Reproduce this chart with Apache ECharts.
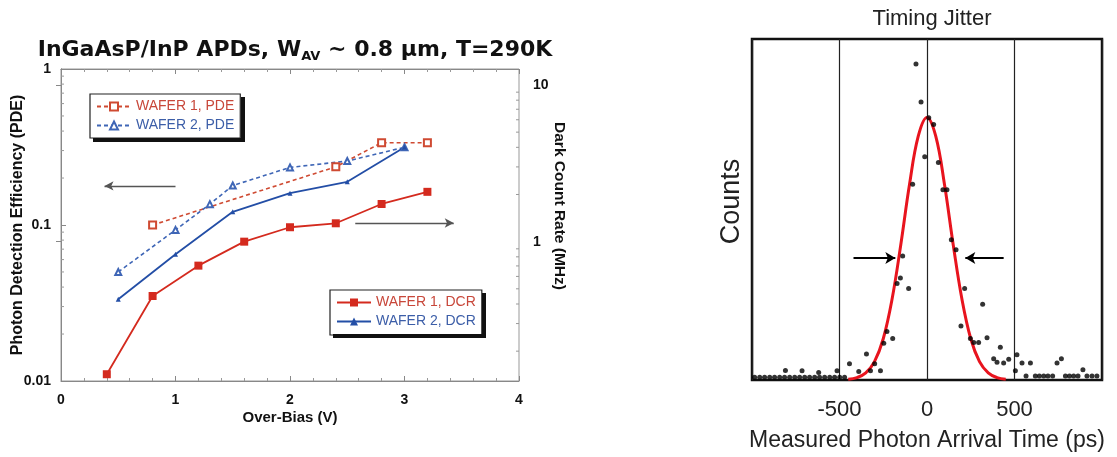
<!DOCTYPE html>
<html><head><meta charset="utf-8">
<script src="https://cdn.jsdelivr.net/npm/echarts@6/dist/echarts.min.js"></script>
<style>html,body{margin:0;padding:0;background:#fff}#c{width:1117px;height:457px}</style>
</head><body><div id="c"></div>
<script>
// ---- Left panel data (Over-Bias in V) ----
const biasW1PDE = [0.8, 2.4, 2.8, 3.2];
const pdeW1 = [0.100, 0.236, 0.337, 0.337];
const biasW2PDE = [0.5, 1.0, 1.3, 1.5, 2.0, 2.5, 3.0];
const pdeW2 = [0.050, 0.093, 0.136, 0.179, 0.234, 0.257, 0.315];
const biasW1DCR = [0.4, 0.8, 1.2, 1.6, 2.0, 2.4, 2.8, 3.2];
const dcrW1 = [0.1425, 0.450, 0.703, 1.00, 1.236, 1.31, 1.74, 2.08];
const biasW2DCR = [0.5, 1.0, 1.5, 2.0, 2.5, 3.0];
const dcrW2 = [0.429, 0.831, 1.55, 2.04, 2.41, 4.0];
const seriesNames = ['WAFER 1, PDE', 'WAFER 2, PDE', 'WAFER 1, DCR', 'WAFER 2, DCR'];
const leftTitle = 'InGaAsP/InP APDs, W{sub|AV} ~ 0.8 μm, T=290K';
const xTitleL = 'Over-Bias (V)';
const yTitleL = 'Photon Detection Efficiency (PDE)';
const yTitleR = 'Dark Count Rate (MHz)';
// log minor tick values
const minorTicksPDE = [0.02, 0.03, 0.04, 0.05, 0.06, 0.07, 0.08, 0.09, 0.2, 0.3, 0.4, 0.5, 0.6, 0.7, 0.8, 0.9];
const minorTicksDCR = [0.2, 0.3, 0.4, 0.5, 0.6, 0.7, 0.8, 0.9, 2, 3, 4, 5, 6, 7, 8, 9];
// arrows (data coordinates): [x0, x1, y]
const arrowPDE = [1.0, 0.38, 0.178];
const arrowDCR = [2.57, 3.43, 0.103];

// ---- Right panel data (time in ps, counts) ----
const jitterT = [-63, -34, 10, 38, -13, 65, -82, 91, 114, 139, 166, -139, -152, -171, -105, 215, 318, 194,
  -229, -247, -196, 248, 343, 267, 295, 419, -346, -299, -443, 381, 400, 438, 467, 514, 543, 591, 505,
  768, 743, -323, -266, -390, -514, -619, -714, -809, 891,
  -985, -956, -928, -899, -871, -842, -814, -785, -756, -728, -699, -671, -642, -614, -585, -556, -528, -499, -471,
  566, 619, 642, 667, 691, 718, 791, 814, 838, 863, 914, 943, 971];
const jitterC = [92.7, 81.5, 76.9, 74.9, 65.5, 63.8, 57.4, 55.8, 55.8, 41.1, 38.2, 36.4, 29.9, 28.3, 26.8, 26.8, 22.2, 15.8,
  14.2, 10.8, 12.2, 12.2, 12.4, 11.0, 11.0, 9.6, 7.6, 4.8, 4.8, 6.2, 5.2, 5.0, 6.1, 7.4, 5.0, 5.0, 2.7,
  6.2, 5.0, 2.7, 2.7, 2.5, 2.7, 2.2, 2.7, 2.8, 3.0,
  0.8, 0.8, 0.8, 0.8, 0.8, 0.8, 0.8, 0.8, 0.8, 0.8, 0.8, 0.8, 0.8, 0.8, 0.8, 0.8, 0.8, 0.8, 0.8,
  1.2, 1.2, 1.2, 1.2, 1.2, 1.2, 1.2, 1.2, 1.2, 1.2, 1.2, 1.2, 1.2];
const fitT = [-450, -400, -350, -300, -250, -200, -150, -100, -50, 0, 50, 100, 150, 200, 250, 300, 350, 400, 450];
const fitC = [0.2, 0.7, 2.1, 5.4, 12.1, 23.6, 39.6, 57.3, 71.5, 77, 71.5, 57.3, 39.6, 23.6, 12.1, 5.4, 2.1, 0.7, 0.2];
const fwhmArrowL = [-420, -181, 35.8];
const fwhmArrowR = [438, 219, 35.8];

const zip = (a, b) => a.map((v, i) => [v, b[i]]);
const F = 'Liberation Sans, Arial, Helvetica, sans-serif';
const FT = 'DejaVu Sans, Liberation Sans, sans-serif';
const RED = '#d42a1e', RED2 = '#cf4a32', BLUE = '#234ea6', BLUE2 = '#3f66b6';
const lblL = { fontFamily: F, fontWeight: 'bold', fontSize: 14, color: '#111' };
// legend boxes (layout): [left, top, right, bottom]
const legendBoxes = [[90, 94, 241, 138], [330, 290, 482, 334]];

function makeLegend(names, left, top, pad, textW) {
  return {
    data: [{ name: names[0], textStyle: { color: '#c8473a' } }, { name: names[1], textStyle: { color: '#3c5ea8' } }],
    orient: 'vertical', left: left, top: top, padding: pad, itemWidth: 34, itemHeight: 10, itemGap: 2,
    backgroundColor: '#fff', selectedMode: false, z: 8, borderColor: '#222', borderWidth: 1.2,
    textStyle: { fontFamily: F, fontSize: 14, lineHeight: 17, width: textW }
  };
}

function minorTickSeries(values, xPos, yIdx, dir) {
  return {
    type: 'custom', xAxisIndex: 0, yAxisIndex: yIdx, silent: true, clip: false, z: 1,
    data: values.map(v => [xPos, v]),
    renderItem: (params, api) => {
      const c = api.coord([api.value(0), api.value(1)]);
      return { type: 'line', shape: { x1: c[0], y1: c[1], x2: c[0] + dir * 3, y2: c[1] },
        style: { stroke: '#999', lineWidth: 1 } };
    }
  };
}

// drop shadow bands for the two legend boxes (drawn via a custom series on the left grid)
const legendShadowSeries = {
  type: 'custom', xAxisIndex: 0, yAxisIndex: 0, silent: true, clip: false, z: 9,
  data: legendBoxes.map((b, i) => [1, 0.1, i]),
  renderItem: (params, api) => {
    const b = legendBoxes[params.dataIndex];
    return {
      type: 'group',
      children: [
        { type: 'rect', shape: { x: b[2], y: b[1] + 3, width: 4, height: b[3] - b[1] + 1 }, style: { fill: '#111' } },
        { type: 'rect', shape: { x: b[0] + 3, y: b[3], width: b[2] - b[0] + 1, height: 4 }, style: { fill: '#111' } }
      ]
    };
  }
};

const chart = echarts.init(document.getElementById('c'), null, { renderer: 'canvas' });
chart.setOption({
  animation: false,
  backgroundColor: '#fff',
  title: [
    { text: leftTitle, left: 290, textAlign: 'center', top: 33,
      textStyle: { fontFamily: FT, fontWeight: 'bold', fontSize: 22, color: '#111',
        rich: { sub: { fontFamily: FT, fontWeight: 'bold', fontSize: 13, color: '#111', padding: [12, 0, 0, 0] } } } },
    { text: 'Timing Jitter', left: 927, textAlign: 'center', top: 3,
      textStyle: { fontFamily: F, fontWeight: 'normal', fontSize: 22, color: '#222' } }
  ],
  legend: [
    makeLegend(seriesNames.slice(0, 2), legendBoxes[0][0], legendBoxes[0][1], [4, 6, 4, 6], 96),
    makeLegend(seriesNames.slice(2, 4), legendBoxes[1][0], legendBoxes[1][1], [4, 6, 5, 6], 99)
  ],
  grid: [
    { left: 61, top: 69, width: 458, height: 312, show: true, borderColor: '#999', borderWidth: 1 },
    { left: 752, top: 39, width: 350, height: 343, show: true, borderColor: '#111', borderWidth: 2.5 }
  ],
  xAxis: [
    { gridIndex: 0, type: 'value', min: 0, max: 4, interval: 1, position: 'bottom',
      name: xTitleL, nameLocation: 'middle', nameGap: 29, nameMoveOverlap: false,
      nameTextStyle: { fontFamily: F, fontWeight: 'bold', fontSize: 15, color: '#111' },
      axisLine: { lineStyle: { color: '#888' } },
      axisTick: { inside: true, length: 5, lineStyle: { color: '#888' } },
      minorTick: { show: true, splitNumber: 5, length: 3, lineStyle: { color: '#999' } },
      axisLabel: Object.assign({ margin: 12 }, lblL), splitLine: { show: false } },
    { gridIndex: 0, type: 'value', min: 0, max: 4, interval: 1, position: 'top',
      axisLine: { lineStyle: { color: '#888' } },
      axisTick: { inside: true, length: 5, lineStyle: { color: '#888' } },
      minorTick: { show: true, splitNumber: 5, length: 3, lineStyle: { color: '#999' } },
      axisLabel: { show: false }, splitLine: { show: false } },
    { gridIndex: 1, type: 'value', min: -1000, max: 1000, interval: 500,
      name: 'Measured Photon Arrival Time (ps)', nameLocation: 'middle', nameGap: 49, nameMoveOverlap: false,
      nameTextStyle: { fontFamily: F, fontSize: 23, color: '#222' },
      axisLine: { show: false }, axisTick: { show: false },
      axisLabel: { fontFamily: F, fontSize: 22, color: '#222', margin: 19, showMinLabel: false, showMaxLabel: false },
      splitLine: { show: true, lineStyle: { color: '#222', width: 1.2 } } }
  ],
  yAxis: [
    { gridIndex: 0, type: 'log', logBase: 10, min: 0.01, max: 1, position: 'left',
      name: yTitleL, nameLocation: 'middle', nameGap: 35, nameRotate: 90, nameMoveOverlap: false,
      nameTextStyle: { fontFamily: F, fontWeight: 'bold', fontSize: 16, color: '#111' },
      axisLine: { lineStyle: { color: '#888' } },
      axisTick: { inside: true, length: 5, lineStyle: { color: '#888' } },
      axisLabel: Object.assign({ margin: 10 }, lblL), splitLine: { show: false } },
    { gridIndex: 0, type: 'log', logBase: 10, min: 0.129, max: 12.65, position: 'right',
      name: yTitleR, nameLocation: 'middle', nameGap: 32, nameRotate: -90, nameMoveOverlap: false,
      nameTextStyle: { fontFamily: F, fontWeight: 'bold', fontSize: 15.5, color: '#111', padding: [0, 38, 0, 0] },
      axisLine: { lineStyle: { color: '#888' } },
      axisTick: { inside: true, length: 5, lineStyle: { color: '#888' } },
      axisLabel: Object.assign({ margin: 14, showMinLabel: false, showMaxLabel: false,
        formatter: v => (Math.abs(Math.log10(v) - Math.round(Math.log10(v))) < 1e-6 ? String(Math.round(v)) : '') }, lblL),
      splitLine: { show: false } },
    { gridIndex: 1, type: 'value', min: 0, max: 100,
      name: 'Counts', nameLocation: 'middle', nameGap: 7, nameRotate: 90,
      nameTextStyle: { fontFamily: F, fontSize: 27, color: '#222', padding: [0, 0, 0, 16] },
      axisLine: { show: false }, axisTick: { show: false }, axisLabel: { show: false }, splitLine: { show: false } }
  ],
  series: [
    { name: seriesNames[0], type: 'line', xAxisIndex: 0, yAxisIndex: 0, data: zip(biasW1PDE, pdeW1),
      symbol: 'emptyRect', symbolSize: 7, color: RED2,
      lineStyle: { color: RED2, width: 1.6, type: [4, 3] }, itemStyle: { color: RED2 },
      markLine: { silent: true, symbol: ['none', 'arrow'], symbolSize: [7, 9], label: { show: false },
        lineStyle: { color: '#555', width: 1.3, type: 'solid' },
        data: [[{ coord: [arrowPDE[0], arrowPDE[2]] }, { coord: [arrowPDE[1], arrowPDE[2]] }],
               [{ coord: [arrowDCR[0], arrowDCR[2]] }, { coord: [arrowDCR[1], arrowDCR[2]] }]] } },
    { name: seriesNames[1], type: 'line', xAxisIndex: 0, yAxisIndex: 0, data: zip(biasW2PDE, pdeW2),
      symbol: 'emptyTriangle', symbolSize: 6, color: BLUE2,
      lineStyle: { color: BLUE2, width: 1.6, type: [4, 3] }, itemStyle: { color: BLUE2 } },
    { name: seriesNames[2], type: 'line', xAxisIndex: 0, yAxisIndex: 1, data: zip(biasW1DCR, dcrW1),
      symbol: 'rect', symbolSize: 8, color: RED,
      lineStyle: { color: RED, width: 1.8 }, itemStyle: { color: RED } },
    { name: seriesNames[3], type: 'line', xAxisIndex: 0, yAxisIndex: 1, data: zip(biasW2DCR, dcrW2),
      symbol: 'triangle', symbolSize: 5, color: BLUE,
      lineStyle: { color: BLUE, width: 1.8 }, itemStyle: { color: BLUE } },
    minorTickSeries(minorTicksPDE, 0, 0, 1),
    minorTickSeries(minorTicksDCR, 4, 1, -1),
    legendShadowSeries,
    { name: 'fit', type: 'line', xAxisIndex: 2, yAxisIndex: 2, data: zip(fitT, fitC), smooth: 0.4,
      showSymbol: false, lineStyle: { color: '#e8141e', width: 3 }, z: 3 },
    { name: 'counts', type: 'scatter', xAxisIndex: 2, yAxisIndex: 2, data: zip(jitterT, jitterC),
      symbol: 'circle', symbolSize: 5, itemStyle: { color: '#000' }, z: 4,
      markLine: { silent: true, symbol: ['none', 'arrow'], symbolSize: [9, 10], label: { show: false },
        lineStyle: { color: '#000', width: 2, type: 'solid' },
        data: [[{ coord: [fwhmArrowL[0], fwhmArrowL[2]] }, { coord: [fwhmArrowL[1], fwhmArrowL[2]] }],
               [{ coord: [fwhmArrowR[0], fwhmArrowR[2]] }, { coord: [fwhmArrowR[1], fwhmArrowR[2]] }]] } }
  ]
});
</script></body></html>
